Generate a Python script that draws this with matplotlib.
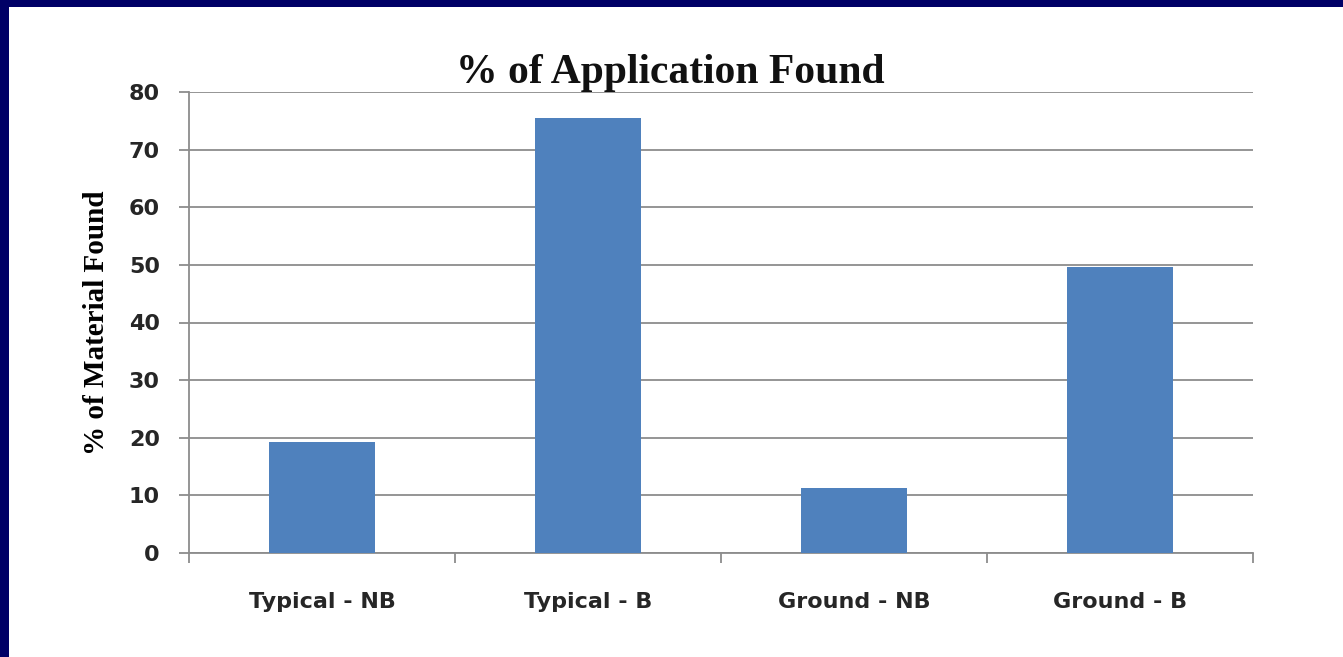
import matplotlib.pyplot as plt
import numpy as np
from matplotlib.patches import Rectangle

categories = ['Typical - NB', 'Typical - B', 'Ground - NB', 'Ground - B']
found = [19.3, 75.5, 11.2, 49.7]
y_ticks = [0, 10, 20, 30, 40, 50, 60, 70, 80]

W, H = 1343, 657
fig = plt.figure(figsize=(W / 100, H / 100), dpi=100, facecolor='#000066')

# white slide area inside the navy frame
fig.patches.append(Rectangle((9 / W, 0), 1 - 9 / W, (H - 7) / H,
                             transform=fig.transFigure, facecolor='white',
                             edgecolor='none', zorder=-5))

ax = fig.add_axes([189 / W, (H - 553) / H, (1253 - 189) / W, (553 - 92) / H])
ax.set_facecolor('white')

x = np.arange(len(categories))
ax.bar(x, found, width=0.4, color='#4F81BD', zorder=3)

ax.set_xlim(-0.5, 3.5)
ax.set_ylim(0, 80)
ax.set_yticks(y_ticks)
ax.grid(axis='y', color='#8c8c8c', linewidth=1.3, zorder=0)

for s in ['top', 'right']:
    ax.spines[s].set_visible(False)
for s in ['left', 'bottom']:
    ax.spines[s].set_color('#8c8c8c')
    ax.spines[s].set_linewidth(1.3)

tick_font = dict(family='DejaVu Sans', weight='bold', size=16, color='#262626')
ax.set_xticks(x)
ax.set_xticklabels(categories, fontdict=tick_font)
ax.set_xticks(np.arange(-0.5, 4, 1), minor=True)
ax.tick_params(axis='x', which='major', length=0, pad=28)
ax.tick_params(axis='x', which='minor', length=7, color='#8c8c8c', width=1.3)
ax.set_yticklabels([str(v) for v in y_ticks], fontdict=tick_font)
ax.tick_params(axis='y', length=7, color='#8c8c8c', width=1.3, pad=14)

ax.set_ylabel('% of Material Found', family='Liberation Serif', weight='bold',
              size=21, va='center')
ax.yaxis.set_label_coords(-0.0874, 0.5)
fig.text(670 / W, 1 - 73 / H, '% of Application Found', family='Liberation Serif',
         weight='bold', size=30, ha='center', va='center', color='#111111')

fig.savefig('out.png', dpi=100, facecolor=fig.get_facecolor())
